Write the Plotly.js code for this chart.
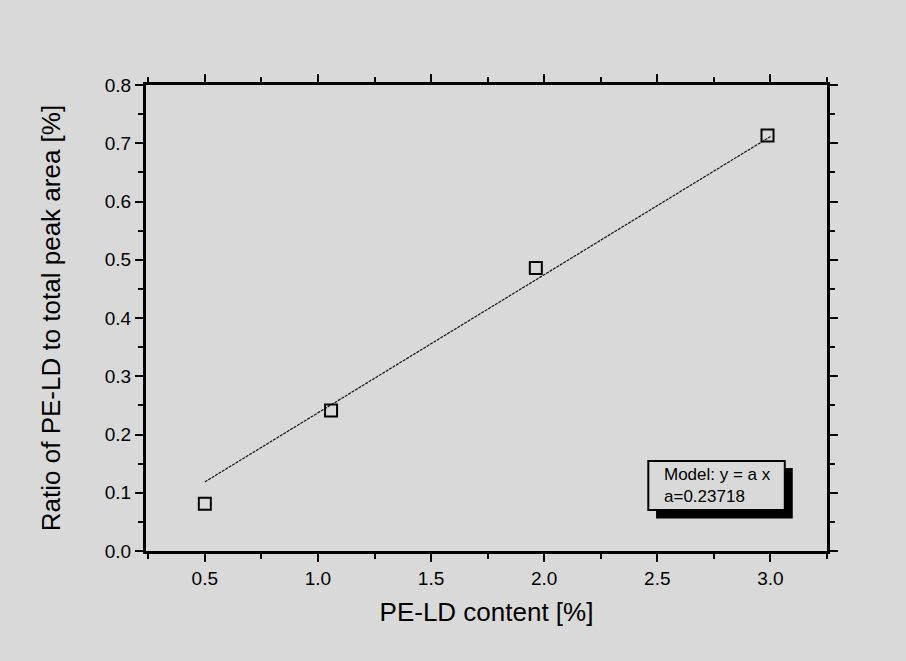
<!DOCTYPE html>
<html>
<head>
<meta charset="utf-8">
<script src="https://cdn.plot.ly/plotly-3.0.1.min.js"></script>
<style>
html,body{margin:0;padding:0;background:#d9d9d9;}
#chart{width:906px;height:661px;}
</style>
</head>
<body>
<div id="chart"></div>
<script>
// Measured data
const contentPct = [0.5, 1.058, 1.963, 2.987];
const ratioPct = [0.081, 0.241, 0.486, 0.7135];
// Fitted model line y = a x (values read at the ends of the drawn line)
const fitX = [0.5, 3.0];
const fitY = [0.1186, 0.7115];
const modelLines = ["Model: y = a x", "a=0.23718"];
const xTitle = "PE-LD content [%]";
const yTitle = "Ratio of PE-LD to total peak area [%]";

const bg = '#d9d9d9';
const fontFam = 'Liberation Sans, Arial, Helvetica, sans-serif';

const traces = [
  {
    x: fitX, y: fitY, type: 'scatter', mode: 'lines',
    line: {color: '#111', width: 1.2, dash: '3px,1px'},
    hoverinfo: 'skip', showlegend: false
  },
  {
    x: contentPct, y: ratioPct, type: 'scatter', mode: 'markers',
    marker: {symbol: 'square-open', size: 12, color: '#000', line: {color: '#000', width: 2}},
    showlegend: false
  }
];

const layout = {
  width: 906, height: 661,
  font: {family: fontFam, size: 19, color: '#000'},
  paper_bgcolor: bg, plot_bgcolor: bg,
  margin: {l: 146, r: 79, t: 85, b: 110},
  xaxis: {
    showline: true, linecolor: '#000', linewidth: 3,
    mirror: 'allticks', ticks: 'outside', ticklen: 8, tickwidth: 2, tickcolor: '#000',
    showgrid: false, zeroline: false,
    tickfont: {family: fontFam, size: 19, color: '#000'},
    range: [0.24, 3.25], tick0: 0.5, dtick: 0.5, tickformat: '.1f',
    minor: {dtick: 0.25, ticks: 'outside', ticklen: 5, tickwidth: 2, tickcolor: '#000', showgrid: false},
    title: {text: xTitle, font: {family: fontFam, size: 26, color: '#000'}, standoff: 16}
  },
  yaxis: {
    showline: true, linecolor: '#000', linewidth: 3,
    mirror: 'allticks', ticks: 'outside', ticklen: 8, tickwidth: 2, tickcolor: '#000',
    showgrid: false, zeroline: false,
    tickfont: {family: fontFam, size: 19, color: '#000'},
    range: [0, 0.8], tick0: 0, dtick: 0.1, tickformat: '.1f',
    minor: {dtick: 0.05, ticks: 'outside', ticklen: 5, tickwidth: 2, tickcolor: '#000', showgrid: false},
    title: {text: yTitle, font: {family: fontFam, size: 26, color: '#000'}, standoff: 37}
  },
  shapes: [
    {type: 'rect', xref: 'paper', yref: 'paper', x0: 0.749, x1: 0.9497, y0: 0.070, y1: 0.178,
     fillcolor: '#000', line: {width: 0}, layer: 'above'},
    {type: 'rect', xref: 'paper', yref: 'paper', x0: 0.7376, x1: 0.938, y0: 0.088, y1: 0.193,
     fillcolor: bg, line: {color: '#000', width: 2}, layer: 'above'}
  ],
  annotations: [
    {xref: 'paper', yref: 'paper', x: 0.757, y: 0.1405, xanchor: 'left', yanchor: 'middle',
     align: 'left', showarrow: false, text: modelLines.join('<br>'),
     font: {family: fontFam, size: 17, color: '#000'}}
  ]
};

Plotly.newPlot('chart', traces, layout, {displayModeBar: false, staticPlot: true});
</script>
</body>
</html>
